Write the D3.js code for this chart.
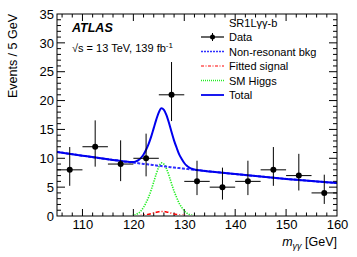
<!DOCTYPE html>
<html>
<head>
<meta charset="utf-8">
<script src="https://cdn.jsdelivr.net/npm/d3@7"></script>
<style>
body { margin: 0; background: #fff; }
svg text { font-family: "Liberation Sans", Arial, sans-serif; }
</style>
</head>
<body>
<svg id="chart" width="357" height="257"></svg>
<script>
// data points, 5 GeV bins
var binCentre = [107.5, 112.5, 117.5, 122.5, 127.5, 132.5, 137.5, 142.5, 147.5, 152.5, 157.5];
var events    = [8, 12, 9, 10, 21, 6, 5, 6, 8, 7, 4];
var errLow    = [2.77, 3.45, 2.96, 3.13, 4.55, 2.38, 2.16, 2.38, 2.77, 2.58, 1.91];
var errHigh   = [3.95, 4.57, 4.11, 4.27, 5.68, 3.58, 3.38, 3.58, 3.95, 3.77, 3.16];

// fit curves
var mass   = [105, 110, 115, 117, 118, 118.5, 119, 119.5, 120, 120.5, 121, 121.5, 122, 122.5, 123, 123.5, 124, 124.5,
              125, 125.5, 126, 126.5, 127, 127.5, 128, 128.5, 129, 129.5, 130, 130.5, 131, 131.5, 132, 132.5, 133,
              135, 140, 145, 150, 155, 160];
var bkg    = [11.1, 10.45, 9.83, 9.60, 9.48, 9.42, 9.37, 9.31, 9.25, 9.2, 9.14, 9.09, 9.03, 8.98, 8.92, 8.87, 8.82, 8.76,
              8.71, 8.66, 8.61, 8.56, 8.50, 8.45, 8.40, 8.35, 8.30, 8.25, 8.20, 8.15, 8.10, 8.06, 8.01, 7.96, 7.91,
              7.72, 7.27, 6.84, 6.43, 6.05, 5.70];
var signal = [0, 0, 0, 0, 0, 0, 0.002, 0.004, 0.01, 0.02, 0.04, 0.08, 0.13, 0.2, 0.29, 0.39, 0.51, 0.64,
              0.74, 0.8, 0.78, 0.71, 0.61, 0.49, 0.37, 0.28, 0.19, 0.13, 0.08, 0.04, 0.02, 0.01, 0.004, 0.002, 0.001,
              0, 0, 0, 0, 0, 0];
var higgs  = [0, 0, 0, 0, 0, 0.005, 0.02, 0.05, 0.1, 0.25, 0.5, 0.9, 1.5, 2.3, 3.3, 4.5, 5.9, 7.3,
              8.5, 9.2, 9.0, 8.2, 7.0, 5.6, 4.3, 3.2, 2.2, 1.5, 0.9, 0.5, 0.25, 0.12, 0.05, 0.02, 0.01,
              0, 0, 0, 0, 0, 0];
var total  = [11.1, 10.45, 9.83, 9.60, 9.48, 9.425, 9.39, 9.36, 9.36, 9.47, 9.68, 10.07, 10.66, 11.48, 12.51, 13.76, 15.23, 16.70,
              17.95, 18.66, 18.39, 17.47, 16.11, 14.54, 13.07, 11.83, 10.69, 9.88, 9.18, 8.69, 8.37, 8.19, 8.06, 7.98, 7.92,
              7.72, 7.27, 6.84, 6.43, 6.05, 5.70];

var xTicks = [110, 120, 130, 140, 150, 160];
var yTicks = [0, 5, 10, 15, 20, 25, 30, 35];

var svg = d3.select("#chart");
var padL = 57, padR = 337, padT = 14, padB = 216;

var x = d3.scaleLinear().domain([105, 160]).range([padL, padR]);
var y = d3.scaleLinear().domain([0, 35]).range([padB, padT]);

var plot = svg.append("g");
plot.append("defs").append("clipPath").attr("id", "clip")
    .append("rect").attr("x", padL).attr("y", padT - 1).attr("width", padR - padL).attr("height", padB - padT);

// axes with ROOT-style inner ticks
function ticksX(yPos, dir) {
    var minor = d3.range(106, 160, 2);
    plot.selectAll(null).data(minor).enter().append("line")
        .attr("x1", d => x(d)).attr("x2", d => x(d))
        .attr("y1", yPos).attr("y2", d => yPos + dir * (d % 10 == 0 ? 7 : 3.5))
        .attr("stroke", "#000").attr("stroke-width", 1);
}
function ticksY(xPos, dir) {
    var minor = d3.range(1, 35, 1);
    plot.selectAll(null).data(minor).enter().append("line")
        .attr("y1", d => y(d)).attr("y2", d => y(d))
        .attr("x1", xPos).attr("x2", d => xPos + dir * (d % 5 == 0 ? 8 : 4))
        .attr("stroke", "#000").attr("stroke-width", 1);
}
ticksX(padB, -1);
ticksX(padT, 1);
ticksY(padL, 1);
ticksY(padR, -1);

var axisX = d3.axisBottom(x).tickValues(xTicks).tickSize(0).tickPadding(4);
var gx = svg.append("g").attr("transform", "translate(0," + padB + ")").call(axisX);
gx.select(".domain").remove();
gx.selectAll("text").attr("font-size", 13).attr("fill", "#000").style("font-family", "Liberation Sans, Arial, sans-serif");

var axisY = d3.axisLeft(y).tickValues(yTicks).tickSize(0).tickPadding(3);
var gy = svg.append("g").attr("transform", "translate(" + padL + ",0)").call(axisY);
gy.select(".domain").remove();
gy.selectAll("text").attr("font-size", 13).attr("fill", "#000").style("font-family", "Liberation Sans, Arial, sans-serif");

// curves
var curves = plot.append("g").attr("clip-path", "url(#clip)");
function curve(vals, color, width, dash) {
    var line = d3.line().x((d, i) => x(mass[i])).y(d => y(d)).curve(d3.curveMonotoneX);
    curves.append("path").datum(vals).attr("d", line)
        .attr("fill", "none").attr("stroke", color).attr("stroke-width", width)
        .attr("stroke-dasharray", dash);
}
curve(signal, "#ff0000", 1.5, "4,2,1,2");
curve(higgs, "#22ee22", 1.6, "1.3,1.2");
curve(bkg, "#2f2fff", 2, "3,1.5");
curve(total, "#0000ee", 2, null);

// data
var pts = plot.append("g");
binCentre.forEach(function (c, i) {
    pts.append("line").attr("x1", x(c - 2.5)).attr("x2", x(c + 2.5))
        .attr("y1", y(events[i])).attr("y2", y(events[i]))
        .attr("stroke", "#000").attr("stroke-width", 1);
    pts.append("line").attr("x1", x(c)).attr("x2", x(c))
        .attr("y1", y(events[i] - errLow[i])).attr("y2", y(events[i] + errHigh[i]))
        .attr("stroke", "#000").attr("stroke-width", 1);
    pts.append("circle").attr("cx", x(c)).attr("cy", y(events[i])).attr("r", 3).attr("fill", "#000");
});

// frame
plot.append("rect").attr("x", padL).attr("y", padT).attr("width", padR - padL).attr("height", padB - padT)
    .attr("fill", "none").attr("stroke", "#000").attr("stroke-width", 1);

// labels
svg.append("text").attr("transform", "translate(17," + padT + ") rotate(-90)")
    .attr("text-anchor", "end").attr("font-size", 12.5).text("Events / 5 GeV");

var xl = svg.append("text").attr("x", padR).attr("y", 246).attr("text-anchor", "end").attr("font-size", 12.5);
xl.append("tspan").attr("font-style", "italic").text("m");
xl.append("tspan").attr("font-style", "italic").attr("font-size", 9).attr("dy", 3).text("γγ");
xl.append("tspan").attr("dy", -3).text(" [GeV]");

svg.append("text").attr("x", 72).attr("y", 32).attr("font-size", 12.5)
    .attr("font-weight", "bold").attr("font-style", "italic").text("ATLAS");
var en = svg.append("text").attr("x", 72).attr("y", 52).attr("font-size", 11);
en.append("tspan").text("√s = 13 TeV, 139 fb");
en.append("tspan").attr("font-size", 8).attr("dy", -4).text("-1");

// legend
var legX1 = 201, legX2 = 224, legText = 229;
svg.append("text").attr("x", legText).attr("y", 27).attr("font-size", 11).text("SR1Lγγ-b");
var legend = [
    {name: "Data", color: "#000", dash: null, w: 1.2},
    {name: "Non-resonant bkg", color: "#2f2fff", dash: "2,1", w: 1.5},
    {name: "Fitted signal", color: "#ff0000", dash: "3,1.5,1,1.5", w: 1.2},
    {name: "SM Higgs", color: "#22ee22", dash: "1,1", w: 1.3},
    {name: "Total", color: "#0000ee", dash: null, w: 1.8}
];
legend.forEach(function (e, i) {
    var ly = 37 + i * 14.5;
    svg.append("line").attr("x1", legX1).attr("x2", legX2).attr("y1", ly).attr("y2", ly)
        .attr("stroke", e.color).attr("stroke-width", e.w).attr("stroke-dasharray", e.dash);
    if (e.name == "Data") {
        var mx = (legX1 + legX2) / 2;
        svg.append("line").attr("x1", mx).attr("x2", mx).attr("y1", ly - 4).attr("y2", ly + 4)
            .attr("stroke", "#000").attr("stroke-width", 1);
        svg.append("circle").attr("cx", mx).attr("cy", ly).attr("r", 2.5).attr("fill", "#000");
    }
    svg.append("text").attr("x", legText).attr("y", ly + 4).attr("font-size", 11).text(e.name);
});
</script>
</body>
</html>
